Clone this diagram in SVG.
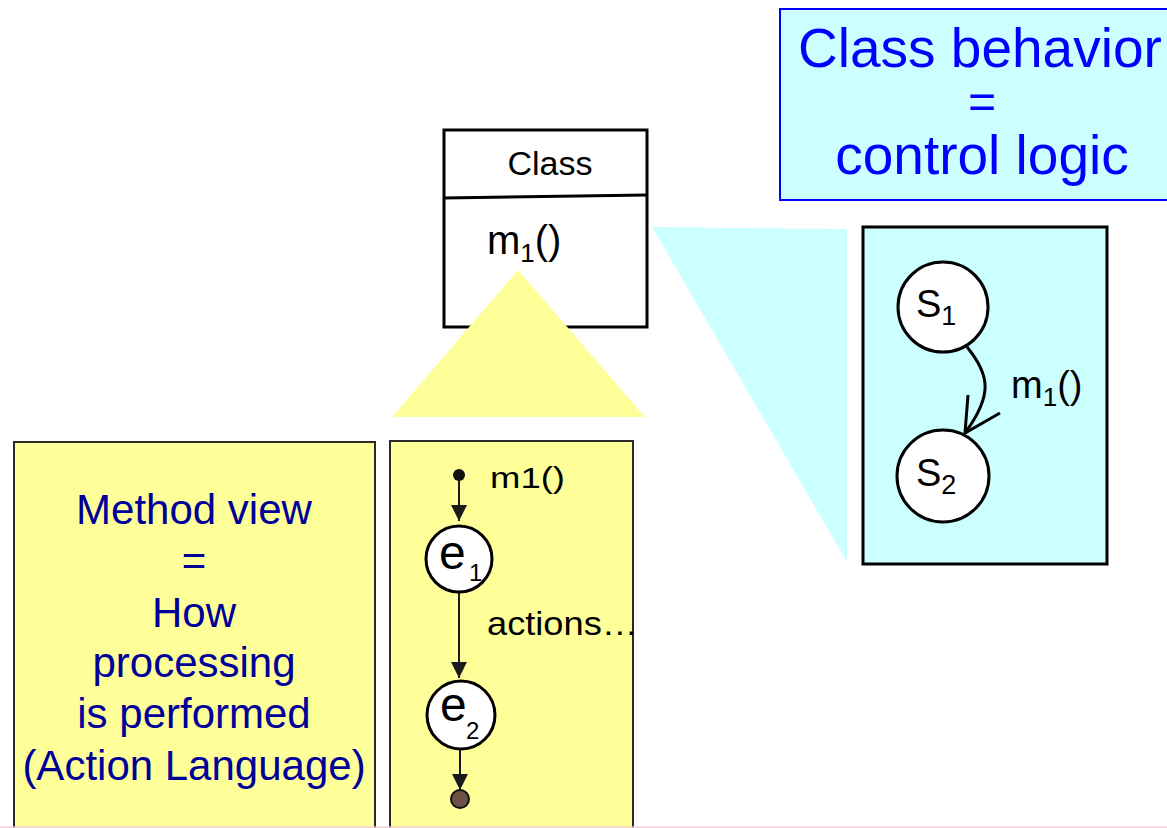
<svg xmlns="http://www.w3.org/2000/svg" width="1167" height="828" viewBox="0 0 1167 828">
  <style>
    text { font-family: "Liberation Sans", Arial, sans-serif; }
    .ink { fill: #000000; }
    .navy { fill: #000099; font-size: 42px; text-anchor: middle; }
    .blue { fill: #0000FF; }
    .box { stroke: #000000; stroke-width: 3; }
    .panel { fill: #FFFF99; stroke: #2a2a2a; stroke-width: 2; }
    .state { fill: #FFFFFF; stroke: #000000; stroke-width: 3; }
    .edge { fill: none; stroke: #1a1a1a; stroke-width: 2; }
  </style>
  <defs>
    <marker id="arrow" viewBox="0 0 16 16" refX="16" refY="8" markerWidth="16" markerHeight="16" markerUnits="userSpaceOnUse" orient="auto">
      <path d="M0,0 L16,8 L0,16 Z" fill="#1a1a1a"/>
    </marker>
  </defs>

  <rect x="0" y="0" width="1167" height="828" fill="#FFFFFF"/>

  <!-- title callout -->
  <g id="title">
    <rect x="780" y="9" width="400" height="191" fill="#CCFFFF" stroke="#0000FF" stroke-width="2"/>
    <text class="blue" x="798" y="67" font-size="55">Class behavior</text>
    <text class="blue" x="982" y="118" font-size="48" text-anchor="middle">=</text>
    <text class="blue" x="982" y="174" font-size="55" text-anchor="middle">control logic</text>
  </g>

  <!-- class box -->
  <g id="class">
    <rect class="box" x="444" y="130" width="203" height="197" fill="#FFFFFF"/>
    <line x1="444" y1="198" x2="647" y2="195" stroke="#000" stroke-width="3"/>
    <text class="ink" x="550" y="175" font-size="34" text-anchor="middle">Class</text>
    <text class="ink" x="487" y="254" font-size="40">m<tspan font-size="26" dy="8">1</tspan><tspan dy="-8">()</tspan></text>
  </g>

  <!-- projection wedges -->
  <polygon id="wedge-behavior" points="652,227 847,229 847,562" fill="#CCFFFF"/>
  <polygon id="wedge-method" points="518,270 645,417 392,417" fill="#FFFF99"/>

  <!-- method view description -->
  <g id="method-view">
    <rect class="panel" x="14" y="442" width="361" height="400"/>
    <text class="navy" x="194" y="524">Method view</text>
    <text class="navy" x="194" y="575">=</text>
    <text class="navy" x="194" y="627">How</text>
    <text class="navy" x="194" y="677">processing</text>
    <text class="navy" x="194" y="728">is performed</text>
    <text class="navy" x="194" y="780">(Action Language)</text>
  </g>

  <!-- activity panel -->
  <g id="activity">
    <rect class="panel" x="390" y="441" width="243" height="400"/>
  </g>

  <!-- state panel -->
  <g id="statechart">
    <rect class="box" x="863" y="227" width="244" height="337" fill="#CCFFFF"/>
  </g>

  <g id="connectors">
    <line class="edge" x1="459" y1="476" x2="459" y2="521" marker-end="url(#arrow)"/>
    <line class="edge" x1="459" y1="592" x2="459" y2="678" marker-end="url(#arrow)"/>
    <line class="edge" x1="460" y1="749" x2="460" y2="790" marker-end="url(#arrow)"/>
    <path d="M967,347 C990,375 993,395 965,433" fill="none" stroke="#000" stroke-width="3"/>
    <polyline points="968,395 965,433 1000,413" fill="none" stroke="#000" stroke-width="3"/>
    <text class="ink" x="1011" y="398" font-size="38">m<tspan font-size="26" dy="8">1</tspan><tspan dy="-8">()</tspan></text>
    <text class="ink" x="490" y="488" font-size="29" textLength="75" lengthAdjust="spacingAndGlyphs">m1()</text>
    <text class="ink" x="487" y="635" font-size="33" textLength="151" lengthAdjust="spacingAndGlyphs">actions…</text>
  </g>

  <g id="initial">
    <circle cx="459" cy="475" r="6" fill="#111"/>
  </g>
  <g id="e1">
    <circle class="state" cx="459" cy="559" r="33"/>
    <text class="ink" x="439" y="569" font-size="48">e</text>
    <text class="ink" x="469" y="581" font-size="24">1</text>
  </g>
  <g id="e2">
    <circle class="state" cx="461" cy="715" r="34"/>
    <text class="ink" x="440" y="721" font-size="48">e</text>
    <text class="ink" x="466" y="739" font-size="24">2</text>
  </g>
  <g id="final">
    <circle cx="460" cy="799" r="9" fill="#6E5047" stroke="#111" stroke-width="2"/>
  </g>

  <g id="s1">
    <circle class="state" cx="943" cy="307" r="45"/>
    <text class="ink" x="916" y="317" font-size="38">S<tspan font-size="27" dy="8">1</tspan></text>
  </g>
  <g id="s2">
    <circle class="state" cx="943" cy="476" r="46"/>
    <text class="ink" x="916" y="486" font-size="38">S<tspan font-size="27" dy="8">2</tspan></text>
  </g>

  <rect x="0" y="826" width="1167" height="2" fill="#F2CDD5" opacity="0.7"/>
</svg>
